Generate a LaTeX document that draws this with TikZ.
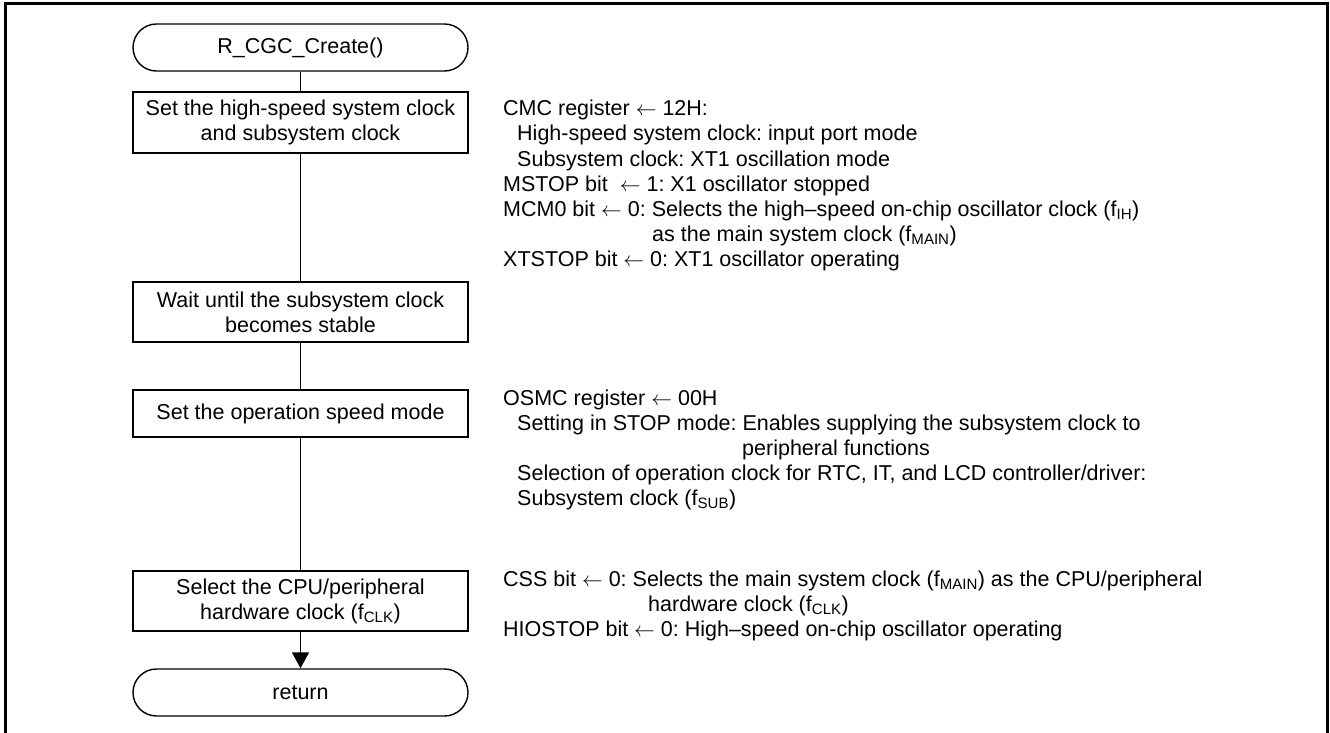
\documentclass[tikz,border=0pt]{standalone}
\usepackage{fontspec}
\setmainfont{Liberation Sans}
\usetikzlibrary{arrows.meta}
\newcommand{\lsub}[1]{\textsubscript{#1}}
\newcommand{\larr}{$\leftarrow$}
\frenchspacing
\begin{document}
\begin{tikzpicture}[x=1pt,y=-1pt,
  every node/.style={font=\fontsize{21.5}{25}\selectfont, inner sep=0pt},
  box/.style={draw, line width=1.4pt, minimum width=335pt, minimum height=60pt, align=center},
  term/.style={draw, line width=1.4pt, minimum width=335pt, minimum height=47pt, rounded corners=23.5pt},
  note/.style={anchor=base west},
  flow/.style={line width=1.4pt}]
\useasboundingbox (0,0) rectangle (1330,733);
\draw[line width=3pt] (5,733) -- (5,4) -- (1327,4) -- (1327,733);

% flow nodes
\node[term] (start) at (300.5,47.5) {R\_CGC\_Create()};
\node[box, minimum height=61pt] (b1) at (300.5,122.5) {Set the high-speed system clock\\and subsystem clock};
\node[box] (b2) at (300.5,312) {Wait until the subsystem clock\\becomes stable};
\node[box, minimum height=47pt] (b3) at (300.5,413.5) {Set the operation speed mode};
\node[box] (b4) at (300.5,601) {Select the CPU/peripheral\\hardware clock (f\lsub{CLK})};
\node[term] (ret) at (300.5,692.5) {return};

\draw[flow] (start) -- (b1);
\draw[flow] (b1) -- (b2);
\draw[flow] (b2) -- (b3);
\draw[flow] (b3) -- (b4);
\draw[flow, -{Triangle[length=16pt,width=17pt]}] (b4) -- (ret);

% notes block A
\node[note] (a1) at (503,116) {CMC register \larr{} 12H:};
\node[note] (a2) at (517,141) {High-speed system clock: input port mode};
\node[note] (a3) at (517,166) {Subsystem clock: XT1 oscillation mode};
\node[note] (a4) at (503,191) {MSTOP bit \ \larr{} 1: X1 oscillator stopped};
\node[note] (a5) at (503,216) {MCM0 bit \larr{} 0: Selects the high--speed on-chip oscillator clock (f\lsub{IH})};
\node[note] (a6) at (652,241) {as the main system clock (f\lsub{MAIN})};
\node[note] (a7) at (503,266) {XTSTOP bit \larr{} 0: XT1 oscillator operating};

% notes block B
\node[note] (n1) at (503,405) {OSMC register \larr{} 00H};
\node[note] (n2) at (517,430) {Setting in STOP mode: Enables supplying the subsystem clock to};
\node[note] (n3) at (742,455) {peripheral functions};
\node[note] (n4) at (517,480) {Selection of operation clock for RTC, IT, and LCD controller/driver:};
\node[note] (n5) at (517,505) {Subsystem clock (f\lsub{SUB})};

% notes block C
\node[note] (c1) at (503,586) {CSS bit \larr{} 0: Selects the main system clock (f\lsub{MAIN}) as the CPU/peripheral};
\node[note] (c2) at (648,611) {hardware clock (f\lsub{CLK})};
\node[note] (c3) at (503,636) {HIOSTOP bit \larr{} 0: High--speed on-chip oscillator operating};
\end{tikzpicture}
\end{document}
